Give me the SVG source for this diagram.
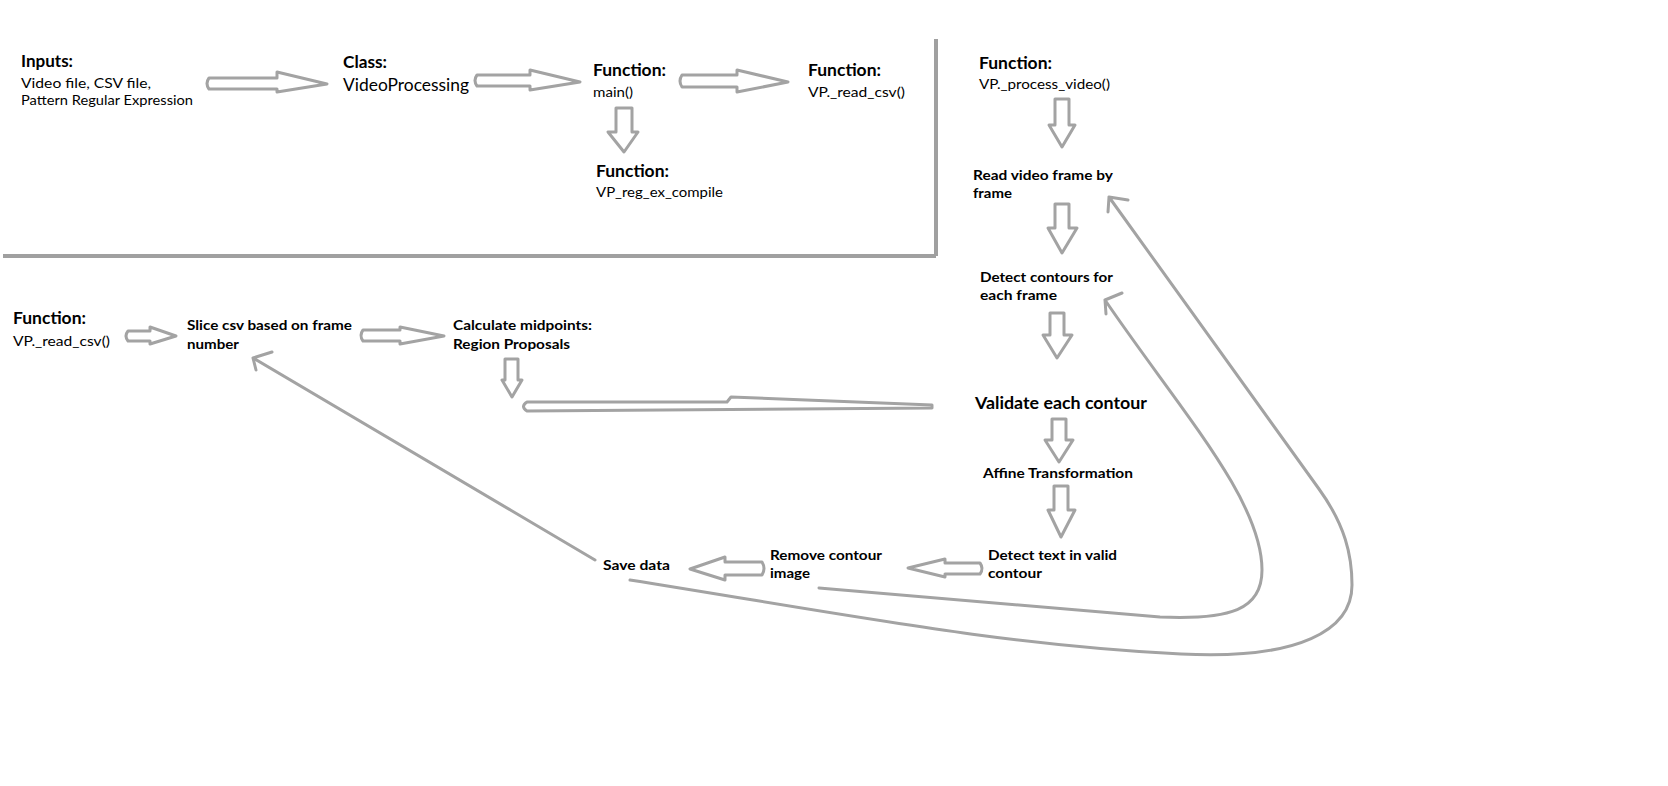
<svg xmlns="http://www.w3.org/2000/svg" width="1668" height="786" viewBox="0 0 1668 786">
<style>
text{font-family:Lato,"Open Sans","Liberation Sans",sans-serif;fill:#000}
.h{font-size:17px;font-weight:bold}
.t{font-size:14px}
.b{font-size:14px;font-weight:bold}
.big{font-size:18px}
.v{font-size:17px;font-weight:bold}
.arr{fill:#fff;stroke:#a3a3a3;stroke-width:3;stroke-linejoin:round}
.con{fill:none;stroke:#a3a3a3;stroke-width:3;stroke-linecap:round;stroke-linejoin:round}
.div{fill:none;stroke:#a0a0a0;stroke-width:4}
</style>
<rect width="1668" height="786" fill="#fff"/>
<g id="dividers">
<line class="div" x1="936" y1="39" x2="936" y2="256"/>
<line class="div" x1="3" y1="256" x2="936" y2="256"/>
</g>
<g id="connectors">
<path class="arr" d="M209,78 L277,78 L277,72 L327,84 L277,92 L277,89 L209,89 Q205,83.5 209,78 Z"/>
<path class="arr" d="M477,75 L530,75 L530,70 L580,82 L530,90 L530,86 L477,86 Q473,80.5 477,75 Z"/>
<path class="arr" d="M682,75 L737,75 L737,70 L788,82 L737,92 L737,87 L682,87 Q678,81 682,75 Z"/>
<path class="arr" d="M616,108 L632,108 L632,132 L638,132 L624,152 L608,132 L616,132 Z"/>
<path class="arr" d="M1055,99 L1069,99 L1069,125 L1075,125 L1062,147 L1049,125 L1055,125 Z"/>
<path class="arr" d="M1055,204 L1069,204 L1069,228 L1077,228 L1062,253 L1048,228 L1055,228 Z"/>
<path class="arr" d="M1050,313 L1064,313 L1064,335 L1072,335 L1057,358 L1043,335 L1050,335 Z"/>
<path class="arr" d="M1052,419 L1066,419 L1066,440 L1073,440 L1059,462 L1045,440 L1052,440 Z"/>
<path class="arr" d="M1054,486 L1068,486 L1068,510 L1075,510 L1061,537 L1048,510 L1054,510 Z"/>
<path class="arr" d="M505,359 L518,359 L518,380 L522,380 L512,397 L502,380 L505,380 Z"/>
<path class="arr" d="M128,331 L150,331 L150,327 L176,336 L150,344 L150,341 L128,341 Q124,336 128,331 Z"/>
<path class="arr" d="M363,330 L400,330 L400,327 L444,336 L400,344 L400,341 L363,341 Q359,335.5 363,330 Z"/>
<path class="arr" d="M980,563 L945,563 L945,559 L908,568 L945,577 L945,574 L980,574 Q984,568.5 980,563 Z"/>
<path class="arr" d="M762,562 L725,562 L725,557 L690,569 L725,580 L725,575 L762,575 Q766,568.5 762,562 Z"/>
<path class="arr" d="M527,402 L727,402 L731,397 L932,405 L932,408 L527,411 Q520,406.5 527,402 Z"/>
<path class="con" d="M595,560 L253,358 M253,358 L272,352 M253,358 L256,370"/>
<path class="con" d="M819,588 L1160,617 C1230,620 1262,610 1262,570 C1262,500 1180,410 1105,300 M1105,300 L1122,293 M1105,300 L1106,314"/>
<path class="con" d="M630,580 C850,615 1000,645 1181,654 C1300,660 1352,630 1352,585 C1352,555 1345,525 1319,489 L1109,197 M1109,197 L1128,200 M1109,197 L1108,212"/>
</g>
<g id="inputs">
<text class="h" x="21" y="67" textLength="52" lengthAdjust="spacingAndGlyphs">Inputs:</text>
<text class="t" x="21" y="88" textLength="130" lengthAdjust="spacingAndGlyphs">Video file, CSV file,</text>
<text class="t" x="21" y="105" textLength="172" lengthAdjust="spacingAndGlyphs">Pattern Regular Expression</text>
</g>
<g id="class">
<text class="h" x="343" y="68" textLength="44" lengthAdjust="spacingAndGlyphs">Class:</text>
<text class="big" x="343" y="91" textLength="126" lengthAdjust="spacingAndGlyphs">VideoProcessing</text>
</g>
<g id="main">
<text class="h" x="593" y="76" textLength="73" lengthAdjust="spacingAndGlyphs">Function:</text>
<text class="t" x="593" y="97" textLength="40" lengthAdjust="spacingAndGlyphs">main()</text>
</g>
<g id="regex">
<text class="h" x="596" y="177" textLength="73" lengthAdjust="spacingAndGlyphs">Function:</text>
<text class="t" x="596" y="197" textLength="127" lengthAdjust="spacingAndGlyphs">VP_reg_ex_compile</text>
</g>
<g id="readcsv1">
<text class="h" x="808" y="76" textLength="73" lengthAdjust="spacingAndGlyphs">Function:</text>
<text class="t" x="808" y="97" textLength="97" lengthAdjust="spacingAndGlyphs">VP._read_csv()</text>
</g>
<g id="process">
<text class="h" x="979" y="69" textLength="73" lengthAdjust="spacingAndGlyphs">Function:</text>
<text class="t" x="979" y="89" textLength="131" lengthAdjust="spacingAndGlyphs">VP._process_video()</text>
</g>
<g id="readframe">
<text class="b" x="973" y="180" textLength="140" lengthAdjust="spacingAndGlyphs">Read video frame by</text>
<text class="b" x="973" y="198" textLength="39" lengthAdjust="spacingAndGlyphs">frame</text>
</g>
<g id="detectcontours">
<text class="b" x="980" y="282" textLength="133" lengthAdjust="spacingAndGlyphs">Detect contours for</text>
<text class="b" x="980" y="300" textLength="77" lengthAdjust="spacingAndGlyphs">each frame</text>
</g>
<g id="validate">
<text class="v" x="975" y="409" textLength="172" lengthAdjust="spacingAndGlyphs">Validate each contour</text>
</g>
<g id="affine">
<text class="b" x="983" y="478" textLength="150" lengthAdjust="spacingAndGlyphs">Affine Transformation</text>
</g>
<g id="detecttext">
<text class="b" x="988" y="560" textLength="129" lengthAdjust="spacingAndGlyphs">Detect text in valid</text>
<text class="b" x="988" y="578" textLength="54" lengthAdjust="spacingAndGlyphs">contour</text>
</g>
<g id="remove">
<text class="b" x="770" y="560" textLength="112" lengthAdjust="spacingAndGlyphs">Remove contour</text>
<text class="b" x="770" y="578" textLength="40" lengthAdjust="spacingAndGlyphs">image</text>
</g>
<g id="save">
<text class="b" x="603" y="570" textLength="67" lengthAdjust="spacingAndGlyphs">Save data</text>
</g>
<g id="readcsv2">
<text class="h" x="13" y="324" textLength="73" lengthAdjust="spacingAndGlyphs">Function:</text>
<text class="t" x="13" y="346" textLength="97" lengthAdjust="spacingAndGlyphs">VP._read_csv()</text>
</g>
<g id="slice">
<text class="b" x="187" y="330" textLength="165" lengthAdjust="spacingAndGlyphs">Slice csv based on frame</text>
<text class="b" x="187" y="349" textLength="52" lengthAdjust="spacingAndGlyphs">number</text>
</g>
<g id="midpoints">
<text class="b" x="453" y="330" textLength="139" lengthAdjust="spacingAndGlyphs">Calculate midpoints:</text>
<text class="b" x="453" y="349" textLength="117" lengthAdjust="spacingAndGlyphs">Region Proposals</text>
</g>
</svg>
